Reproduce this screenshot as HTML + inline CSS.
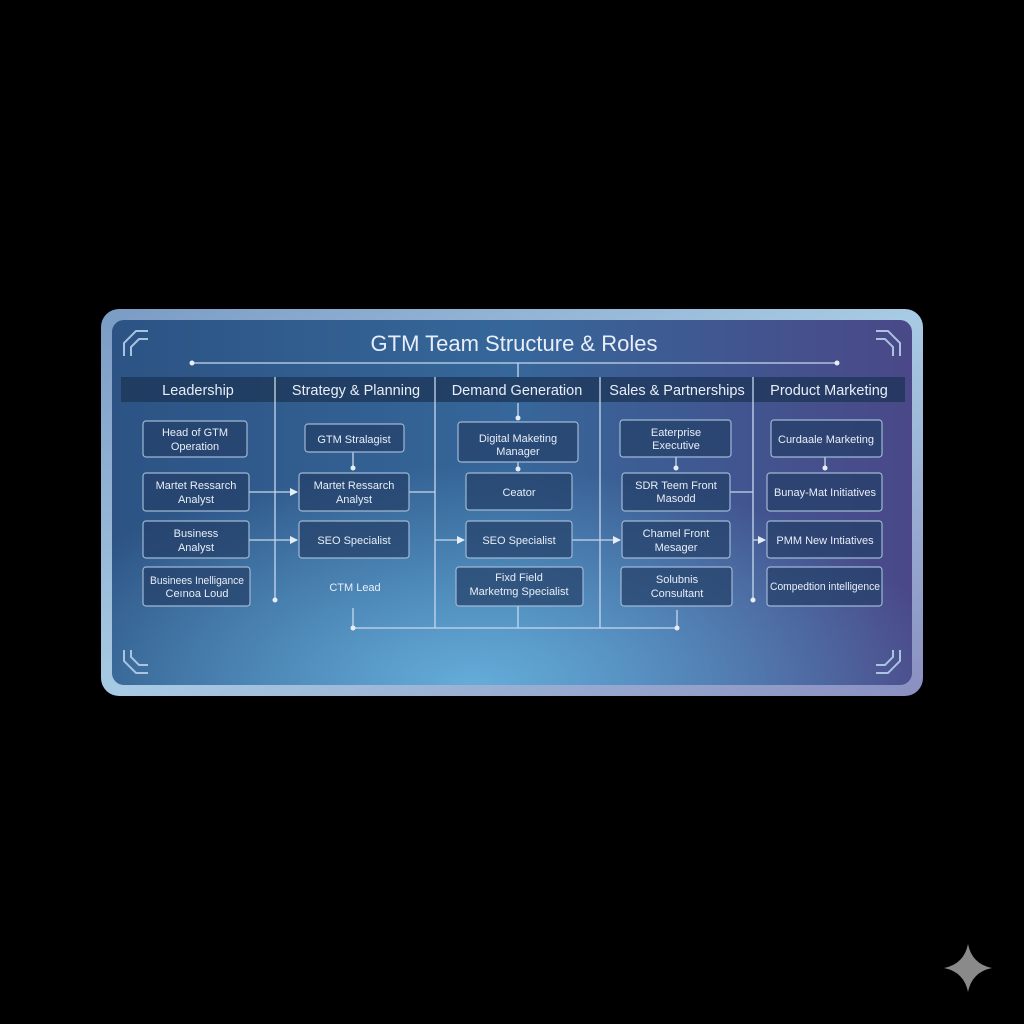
<!DOCTYPE html>
<html><head><meta charset="utf-8"><style>
html,body{margin:0;padding:0;background:#000;width:1024px;height:1024px;overflow:hidden}
svg{display:block}
text{font-family:"Liberation Sans",sans-serif;fill:#e8eef8}
</style></head><body>
<svg width="1024" height="1024" viewBox="0 0 1024 1024">
<defs>
<linearGradient id="frame" x1="0" y1="0" x2="1" y2="1">
<stop offset="0" stop-color="#7a9cc4"/><stop offset="0.5" stop-color="#a8cbe4"/><stop offset="1" stop-color="#8a8fc0"/>
</linearGradient>
<linearGradient id="bg" x1="0" y1="0" x2="1" y2="0">
<stop offset="0" stop-color="#2c5384"/><stop offset="0.5" stop-color="#36679a"/><stop offset="1" stop-color="#4a4888"/>
</linearGradient>
<radialGradient id="glow" cx="0.45" cy="1" r="0.6">
<stop offset="0" stop-color="#6ab4e0" stop-opacity="0.9"/><stop offset="1" stop-color="#6ab4e0" stop-opacity="0"/>
</radialGradient>
<marker id="ar" markerWidth="8" markerHeight="8" refX="7" refY="4" orient="auto" markerUnits="userSpaceOnUse"><path d="M0,0 L8,4 L0,8z" fill="#e8eef8"/></marker>
</defs>
<rect x="101" y="309" width="822" height="387" rx="18" fill="url(#frame)"/>
<rect x="112" y="320" width="800" height="365" rx="12" fill="url(#bg)"/>
<rect x="112" y="320" width="800" height="365" rx="12" fill="url(#glow)"/>
<g stroke="#a9c4e0" stroke-width="2" fill="none">
<path d="M124,356 V343 L136,331 H148"/><path d="M131,356 V347 L139,339 H148"/>
<path d="M900,356 V343 L888,331 H876"/><path d="M893,356 V347 L885,339 H876"/>
<path d="M124,650 V661 L136,673 H148"/><path d="M131,650 V657 L139,665 H148"/>
<path d="M900,650 V661 L888,673 H876"/><path d="M893,650 V657 L885,665 H876"/>
</g>
<text x="514" y="351" font-size="22" text-anchor="middle">GTM Team Structure &amp; Roles</text>
<rect x="121" y="377" width="784" height="25" fill="#1c3456" opacity="0.75"/>
<g font-size="14.5" text-anchor="middle">
<text x="198" y="395">Leadership</text><text x="356" y="395">Strategy &amp; Planning</text>
<text x="517" y="395">Demand Generation</text><text x="677" y="395">Sales &amp; Partnerships</text>
<text x="829" y="395">Product Marketing</text>
</g>
<g stroke="#c8d8ec" stroke-width="1.3" fill="none">
<line x1="192" y1="363" x2="837" y2="363"/><line x1="518" y1="363" x2="518" y2="377"/>
<line x1="275" y1="377" x2="275" y2="600"/><line x1="435" y1="377" x2="435" y2="628"/>
<line x1="600" y1="377" x2="600" y2="628"/><line x1="753" y1="377" x2="753" y2="600"/>
<line x1="249" y1="492" x2="297" y2="492" marker-end="url(#ar)"/>
<line x1="249" y1="540" x2="297" y2="540" marker-end="url(#ar)"/>
<line x1="409" y1="492" x2="435" y2="492"/>
<line x1="435" y1="540" x2="464" y2="540" marker-end="url(#ar)"/>
<line x1="572" y1="540" x2="620" y2="540" marker-end="url(#ar)"/>
<line x1="730" y1="492" x2="753" y2="492"/>
<line x1="753" y1="540" x2="765" y2="540" marker-end="url(#ar)"/>
<line x1="353" y1="452" x2="353" y2="468"/><line x1="518" y1="403" x2="518" y2="418"/>
<line x1="518" y1="462" x2="518" y2="469"/><line x1="676" y1="457" x2="676" y2="468"/>
<line x1="825" y1="457" x2="825" y2="468"/>
<line x1="353" y1="628" x2="677" y2="628"/><line x1="353" y1="608" x2="353" y2="628"/>
<line x1="518" y1="606" x2="518" y2="628"/><line x1="677" y1="610" x2="677" y2="628"/>
</g>
<g fill="#e8eef8">
<circle cx="192" cy="363" r="2.5"/><circle cx="837" cy="363" r="2.5"/>
<circle cx="275" cy="600" r="2.5"/><circle cx="753" cy="600" r="2.5"/>
<circle cx="353" cy="468" r="2.5"/><circle cx="518" cy="418" r="2.5"/><circle cx="518" cy="469" r="2.5"/>
<circle cx="676" cy="468" r="2.5"/><circle cx="825" cy="468" r="2.5"/>
<circle cx="353" cy="628" r="2.5"/><circle cx="677" cy="628" r="2.5"/>
</g>
<g fill="#233f66" fill-opacity="0.7" stroke="#9fb8d6" stroke-width="1.2">
<rect x="143" y="421" width="104" height="36" rx="3"/><rect x="143" y="473" width="106" height="38" rx="3"/>
<rect x="143" y="521" width="106" height="37" rx="3"/><rect x="143" y="567" width="107" height="39" rx="3"/>
<rect x="305" y="424" width="99" height="28" rx="3"/><rect x="299" y="473" width="110" height="38" rx="3"/>
<rect x="299" y="521" width="110" height="37" rx="3"/>
<rect x="458" y="422" width="120" height="40" rx="3"/><rect x="466" y="473" width="106" height="37" rx="3"/>
<rect x="466" y="521" width="106" height="37" rx="3"/><rect x="456" y="567" width="127" height="39" rx="3"/>
<rect x="620" y="420" width="111" height="37" rx="3"/><rect x="622" y="473" width="108" height="38" rx="3"/>
<rect x="622" y="521" width="108" height="37" rx="3"/><rect x="621" y="567" width="111" height="39" rx="3"/>
<rect x="771" y="420" width="111" height="37" rx="3"/><rect x="767" y="473" width="115" height="38" rx="3"/>
<rect x="767" y="521" width="115" height="37" rx="3"/><rect x="767" y="567" width="115" height="39" rx="3"/>
</g>
<g font-size="11" text-anchor="middle">
<text x="195" y="436">Head of GTM</text><text x="195" y="450">Operation</text>
<text x="196" y="489">Martet Ressarch</text><text x="196" y="503">Analyst</text>
<text x="196" y="537">Business</text><text x="196" y="551">Analyst</text>
<text x="197" y="584" textLength="94" lengthAdjust="spacingAndGlyphs">Businees Inelligance</text><text x="197" y="597">Ceınoa Loud</text>
<text x="354" y="443">GTM Stralagist</text>
<text x="354" y="489">Martet Ressarch</text><text x="354" y="503">Analyst</text>
<text x="354" y="544">SEO Specialist</text>
<text x="355" y="591">CTM Lead</text>
<text x="518" y="442">Digital Maketing</text><text x="518" y="455">Manager</text>
<text x="519" y="496">Ceator</text>
<text x="519" y="544">SEO Specialist</text>
<text x="519" y="581">Fixd Field</text><text x="519" y="595">Marketmg Specialist</text>
<text x="676" y="436">Eaterprise</text><text x="676" y="449">Executive</text>
<text x="676" y="489">SDR Teem Front</text><text x="676" y="502">Masodd</text>
<text x="676" y="537">Chamel Front</text><text x="676" y="551">Mesager</text>
<text x="677" y="583">Solubnis</text><text x="677" y="597">Consultant</text>
<text x="826" y="443">Curdaale Marketing</text>
<text x="825" y="496">Bunay-Mat Initiatives</text>
<text x="825" y="544">PMM New Intiatives</text>
<text x="825" y="590" textLength="110" lengthAdjust="spacingAndGlyphs">Compedtion intelligence</text>
</g>
<path d="M968,944 Q972,964 992,968 Q972,972 968,992 Q964,972 944,968 Q964,964 968,944Z" fill="#8a8a8a"/>
</svg>
</body></html>
